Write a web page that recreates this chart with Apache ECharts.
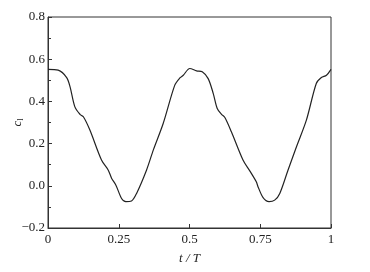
<!DOCTYPE html>
<html><head><meta charset="utf-8">
<script src="https://cdn.jsdelivr.net/npm/echarts@6/dist/echarts.min.js"></script>
<style>html,body{margin:0;padding:0;background:#fff}#c{width:370px;height:272px}</style>
</head><body><div id="c"></div>
<script>
const tValues = [0,0.036,0.066,0.078,0.095,0.113,0.125,0.148,0.189,0.213,0.225,0.24,0.26,0.275,0.295,0.313,0.348,0.372,0.407,0.448,0.466,0.478,0.501,0.525,0.545,0.566,0.584,0.598,0.613,0.625,0.648,0.689,0.713,0.736,0.742,0.76,0.781,0.801,0.819,0.848,0.878,0.913,0.948,0.966,0.984,1.0];
const clValues = [0.552,0.548,0.513,0.469,0.374,0.339,0.327,0.264,0.122,0.074,0.035,0.003,-0.06,-0.075,-0.072,-0.036,0.074,0.169,0.295,0.477,0.511,0.524,0.556,0.545,0.540,0.508,0.437,0.366,0.339,0.324,0.256,0.122,0.071,0.019,-0.004,-0.056,-0.075,-0.068,-0.036,0.074,0.185,0.311,0.485,0.513,0.524,0.552];
const xTicks = [0,0.25,0.5,0.75,1];
const yTicks = [-0.2,0,0.2,0.4,0.6,0.8];

const font = '"Liberation Serif","DejaVu Serif",serif';
const chart = echarts.init(document.getElementById('c'), null, {renderer:'canvas'});
chart.setOption({
  animation:false,
  grid:{left:48,right:39,top:17,bottom:44,containLabel:false,outerBoundsMode:'none',show:true,borderColor:'#333',borderWidth:1,backgroundColor:'transparent'},
  xAxis:{type:'value',min:xTicks[0],max:xTicks[xTicks.length-1],interval:0.25,
    name:'t / T',nameLocation:'middle',nameGap:24,
    nameTextStyle:{fontFamily:font,fontStyle:'italic',fontSize:13,color:'#222'},
    axisLine:{onZero:false,lineStyle:{color:'#333',width:1}},
    axisTick:{inside:true,length:4,lineStyle:{color:'#333'}},
    axisLabel:{fontFamily:font,fontSize:13,color:'#222',margin:5,formatter:v=>String(v)},
    splitLine:{show:false}},
  yAxis:{type:'value',min:yTicks[0],max:yTicks[yTicks.length-1],interval:0.2,
    name:'{i|c}{s|l}',nameLocation:'middle',nameGap:23,nameRotate:90,nameMoveOverlap:false,
    nameTextStyle:{fontFamily:font,color:'#222',rich:{i:{fontFamily:font,fontStyle:'italic',fontSize:13},s:{fontFamily:font,fontSize:8,padding:[6,0,0,0]}}},
    axisLine:{show:true,onZero:false,lineStyle:{color:'#333',width:1}},
    axisTick:{inside:true,length:4,lineStyle:{color:'#333'}},
    minorTick:{show:true,splitNumber:2,length:3,lineStyle:{color:'#333'}},
    axisLabel:{fontFamily:font,fontSize:13,color:'#222',margin:3,formatter:v=>{const s=Math.abs(v).toFixed(1);return v<-1e-9?'\u2212'+s:s;}},
    splitLine:{show:false}},
  series:[{type:'line',data:tValues.map((t,i)=>[t,clValues[i]]),showSymbol:false,smooth:0.3,
    lineStyle:{color:'#222',width:1.2}}]
});
</script></body></html>
